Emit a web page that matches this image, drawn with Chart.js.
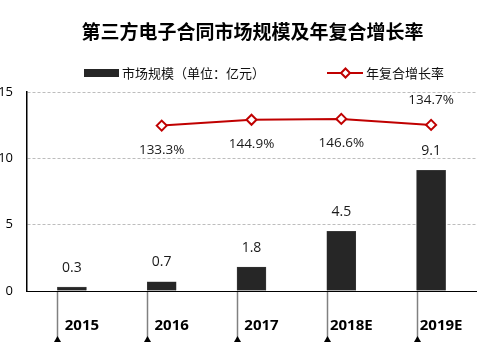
<!DOCTYPE html>
<html>
<head>
<meta charset="utf-8">
<script src="https://cdn.jsdelivr.net/npm/chart.js@4/dist/chart.umd.min.js"></script>
<style>
  html, body { margin: 0; padding: 0; background: #fff; }
  #wrap { width: 492px; height: 344px; position: relative; }
</style>
</head>
<body>
<div id="wrap"><canvas id="c" width="492" height="344"></canvas></div>
<script>
// Years on the category axis
const categories = ['2015', '2016', '2017', '2018E', '2019E'];
// Market size, 亿元 (bars)
const marketSize = [0.3, 0.7, 1.8, 4.5, 9.1];
// Compound annual growth rate, % (line)
const growthRate = [null, 133.3, 144.9, 146.6, 134.7];
// Left axis ticks
const yTicks = [0, 5, 10, 15];

const titleText = '第三方电子合同市场规模及年复合增长率';
const barLegend = '市场规模（单位：亿元）';
const lineLegend = '年复合增长率';

const CJK = '"Noto Sans CJK SC", "Noto Sans", sans-serif';
const NUM = '"Open Sans", "Noto Sans", sans-serif';
const BAR_COLOR = '#262626';
const LINE_COLOR = '#C00000';

const decorations = {
  id: 'decorations',
  afterDraw(chart) {
    const ctx = chart.ctx;
    const yScale = chart.scales.y;
    ctx.save();

    // Title
    ctx.fillStyle = '#000';
    ctx.font = 'bold 19px ' + CJK;
    ctx.textAlign = 'center';
    ctx.textBaseline = 'middle';
    ctx.fillText(titleText, 252.5, 32);

    // Legend
    ctx.font = '13px ' + CJK;
    ctx.textAlign = 'left';
    ctx.fillStyle = BAR_COLOR;
    ctx.fillRect(84, 69, 35, 8);
    ctx.fillStyle = '#111';
    ctx.fillText(barLegend, 122, 73);
    ctx.strokeStyle = LINE_COLOR;
    ctx.lineWidth = 2;
    ctx.beginPath();
    ctx.moveTo(327, 73);
    ctx.lineTo(363, 73);
    ctx.stroke();
    ctx.beginPath();
    ctx.moveTo(345.5, 68.5);
    ctx.lineTo(350, 73);
    ctx.lineTo(345.5, 77.5);
    ctx.lineTo(341, 73);
    ctx.closePath();
    ctx.fillStyle = '#fff';
    ctx.fill();
    ctx.stroke();
    ctx.fillStyle = '#111';
    ctx.fillText(lineLegend, 366, 73);

    // Leader lines under the axis with small arrow heads
    const barMeta = chart.getDatasetMeta(0);
    barMeta.data.forEach((bar) => {
      const lx = Math.round(bar.x - bar.width / 2) + 0.5;
      ctx.strokeStyle = '#808080';
      ctx.lineWidth = 1.5;
      ctx.beginPath();
      ctx.moveTo(lx, yScale.bottom + 1);
      ctx.lineTo(lx, 339);
      ctx.stroke();
      ctx.fillStyle = '#000';
      ctx.beginPath();
      ctx.moveTo(lx, 336);
      ctx.lineTo(lx + 3.5, 342);
      ctx.lineTo(lx - 3.5, 342);
      ctx.closePath();
      ctx.fill();
    });

    // Bar value labels
    ctx.font = '14px ' + NUM;
    ctx.textAlign = 'center';
    ctx.textBaseline = 'middle';
    ctx.fillStyle = '#1a1a1a';
    barMeta.data.forEach((bar, i) => {
      ctx.fillText(marketSize[i].toFixed(1), bar.x, bar.y - 19.5);
    });

    // Growth rate labels
    ctx.font = '13.5px ' + NUM;
    const lineMeta = chart.getDatasetMeta(1);
    lineMeta.data.forEach((pt, i) => {
      const v = growthRate[i];
      if (v === null) return;
      const last = i === growthRate.length - 1;
      ctx.fillText(v.toFixed(1) + '%', pt.x, last ? pt.y - 25 : pt.y + 24.5);
    });

    ctx.restore();
  }
};

new Chart(document.getElementById('c'), {
  data: {
    labels: categories,
    datasets: [
      {
        type: 'bar',
        label: barLegend,
        data: marketSize,
        backgroundColor: BAR_COLOR,
        borderColor: '#4a4a4a',
        borderWidth: 0.5,
        barThickness: 29,
        yAxisID: 'y',
        order: 2
      },
      {
        type: 'line',
        label: lineLegend,
        data: growthRate,
        borderColor: LINE_COLOR,
        borderWidth: 2,
        pointStyle: 'rectRot',
        pointRadius: 5,
        pointBorderWidth: 2,
        pointBackgroundColor: '#fff',
        pointBorderColor: LINE_COLOR,
        tension: 0,
        yAxisID: 'y1',
        order: 1
      }
    ]
  },
  options: {
    responsive: false,
    animation: false,
    devicePixelRatio: 1,
    layout: { padding: { top: 92, right: 16, left: 0, bottom: 0 } },
    plugins: {
      legend: { display: false },
      title: { display: false },
      tooltip: { enabled: false }
    },
    scales: {
      x: {
        offset: true,
        grid: { display: false, drawTicks: false },
        border: { color: '#000', width: 1 },
        ticks: {
          color: '#000',
          font: { family: NUM, size: 15, weight: 'bold' },
          padding: 26,
          labelOffset: 10,
          maxRotation: 0
        },
        afterFit(scale) { scale.height = 53; }
      },
      y: {
        min: 0,
        max: 15,
        afterBuildTicks(scale) { scale.ticks = yTicks.map(v => ({ value: v })); },
        grid: {
          drawTicks: false,
          color: (c) => (c.tick && c.tick.value === 0 ? 'rgba(0,0,0,0)' : '#bdbdbd'),
          lineWidth: 1
        },
        border: { color: '#000', width: 1.5, dash: [3, 2] },
        ticks: {
          color: '#000',
          font: { family: NUM, size: 13 },
          padding: 14
        },
        afterFit(scale) { scale.width = 27; }
      },
      y1: {
        display: false,
        position: 'right',
        min: -195,
        max: 200
      }
    }
  },
  plugins: [decorations]
});
</script>
</body>
</html>
